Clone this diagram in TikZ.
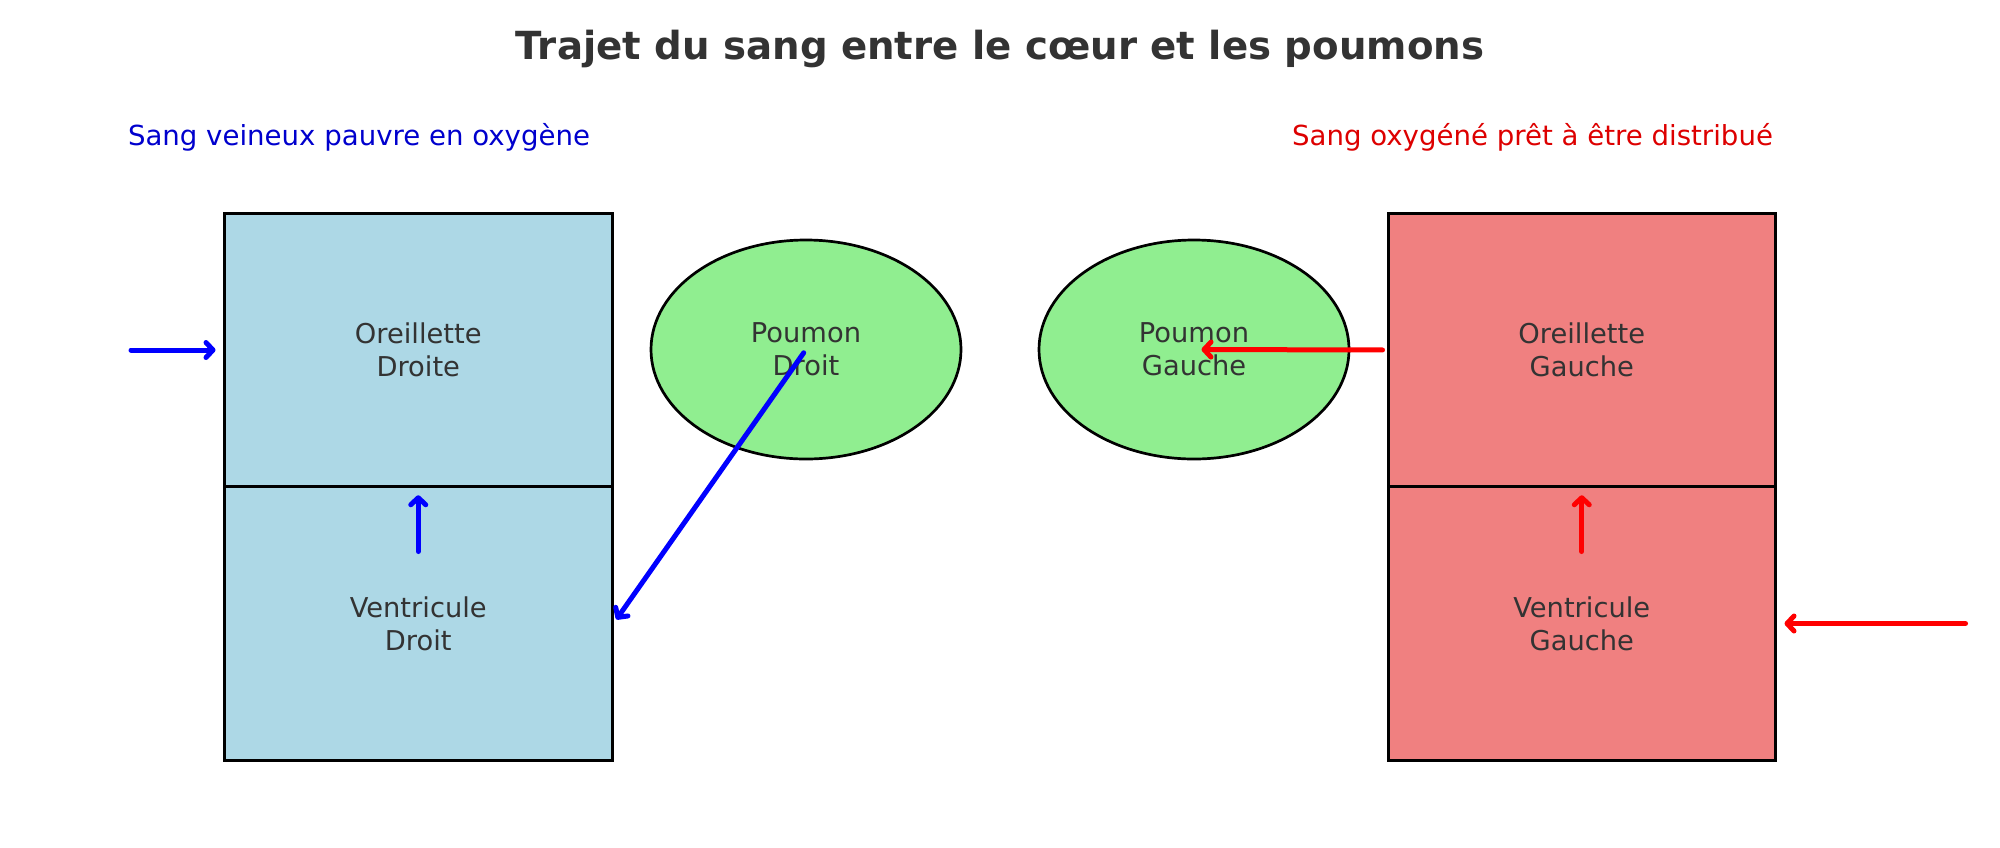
\documentclass[tikz,border=0pt]{standalone}
\usepackage{fontspec}
\setmainfont{DejaVu Sans}
\usetikzlibrary{arrows.meta,shapes.geometric}

\definecolor{txtgris}{HTML}{333333}
\definecolor{bleuclair}{HTML}{ADD8E6}
\definecolor{rougeclair}{HTML}{F08080}
\definecolor{vertclair}{HTML}{90EE90}
\definecolor{bleutxt}{HTML}{0000CD}
\definecolor{rougetxt}{HTML}{DD0000}

\tikzset{
  cavite/.style={draw=black, line width=3pt, rectangle, inner sep=0pt,
    minimum width=387.5pt, minimum height=273.5pt, align=center,
    text=txtgris, font=\fontsize{27.3}{33}\selectfont},
  poumon/.style={draw=black, line width=2.7pt, ellipse, inner sep=0pt,
    fill=vertclair, minimum width=310pt, minimum height=219pt, align=center,
    text=txtgris, font=\fontsize{27.3}{33}\selectfont},
  flux/.style={line width=5pt, line cap=round,
    -{Straight Barb[length=7pt,width=15pt,round]}},
  legende/.style={font=\fontsize{27.6}{33}\selectfont}
}

\begin{document}
\begin{tikzpicture}[x=1pt,y=-1pt]
\useasboundingbox (0,0) rectangle (2000,847);

%Titre
\node[font=\fontsize{38.7}{46}\bfseries, text=txtgris] (titre) at (1000,49) {Trajet du sang entre le cœur et les poumons};
\node[legende, text=bleutxt] (legD) at (359,137) {Sang veineux pauvre en oxygène};
\node[legende, text=rougetxt] (legG) at (1532.5,137) {Sang oxygéné prêt à être distribué};

%Coeur droit
\node[cavite, fill=bleuclair] (oreD) at (418.25,350) {Oreillette\\Droite};
\node[cavite, fill=bleuclair] (ventD) at (418.25,623.5) {Ventricule\\Droit};

%Coeur gauche
\node[cavite, fill=rougeclair] (oreG) at (1581.75,350) {Oreillette\\Gauche};
\node[cavite, fill=rougeclair] (ventG) at (1581.75,623.5) {Ventricule\\Gauche};

%Poumons
\node[poumon] (poumD) at (806,349.5) {Poumon\\Droit};
\node[poumon] (poumG) at (1194,349.5) {Poumon\\Gauche};

%Flux
\coordinate (inD) at (131,350);
\coordinate (inG) at (1965.5,623.5);
\draw[flux, blue] (inD) -- (oreD.west) [shorten >=7.5pt];
\draw[flux, blue, shorten <=72pt, shorten >=7pt] (ventD.center) -- (oreD.south);
\draw[flux, blue, shorten <=4pt, shorten >=5pt] (poumD.center) -- (ventD.east);
\draw[flux, red, shorten <=4pt, shorten >=7.5pt] (oreG.west) -- (poumG.center);
\draw[flux, red, shorten <=72pt, shorten >=7pt] (ventG.center) -- (oreG.south);
\draw[flux, red, shorten >=7.5pt] (inG) -- (ventG.east);
\end{tikzpicture}
\end{document}
